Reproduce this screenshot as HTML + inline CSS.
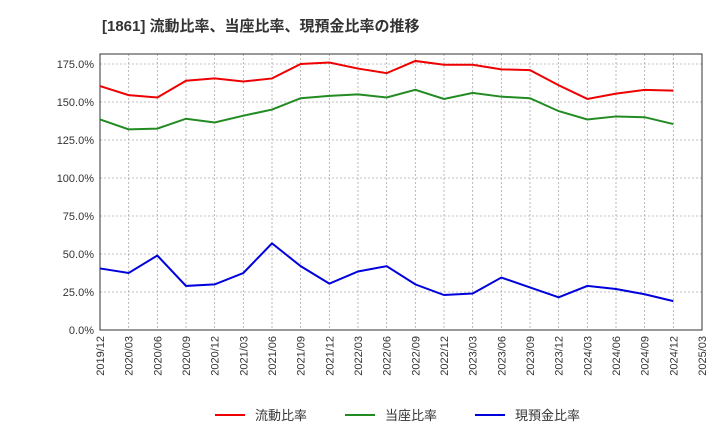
<!DOCTYPE html>
<html><head><meta charset="utf-8"><style>
body{margin:0;background:#fff;font-family:"Liberation Sans","Noto Sans CJK JP",sans-serif}
</style></head><body>
<svg width="720" height="440" xmlns="http://www.w3.org/2000/svg" font-family="Liberation Sans, Noto Sans CJK JP, sans-serif">
<text x="102" y="31" font-size="15" font-weight="bold" fill="#333">[1861]  流動比率、当座比率、現預金比率の推移</text>
<g id="grid"></g><g id="axes"></g><g id="series"></g><g id="legend"></g>
</svg>
<script>
const categories=["2019/12","2020/03","2020/06","2020/09","2020/12","2021/03","2021/06","2021/09","2021/12","2022/03","2022/06","2022/09","2022/12","2023/03","2023/06","2023/09","2023/12","2024/03","2024/06","2024/09","2024/12","2025/03"];
const currentRatio=[160.5,154.5,153,164,165.5,163.5,165.5,175,176,172,169,177,174.5,174.5,171.5,171,161,152,155.5,158,157.5];
const quickRatio=[138.5,132,132.5,139,136.5,141,145,152.5,154,155,153,158,152,156,153.5,152.5,144,138.5,140.5,140,135.5];
const cashRatio=[40.5,37.5,49,29,30,37.5,57,42,30.5,38.5,42,30,23,24,34.5,28,21.5,29,27,23.5,19];
const yTicks=[0,25,50,75,100,125,150,175];
const seriesNames=["流動比率","当座比率","現預金比率"];
const colors=["#e00","#228b22","#00d"];
const L=100,R=702,T=54,B=330;
const NS="http://www.w3.org/2000/svg";
const x=i=>L+(R-L)*i/(categories.length-1);
const y=v=>B-v*(B-64)/175;
function mk(tag,attrs,parent){const e=document.createElementNS(NS,tag);for(const k in attrs)e.setAttribute(k,attrs[k]);document.getElementById(parent).appendChild(e);return e;}
categories.forEach((c,i)=>{
 const g=mk("line",{x1:x(i),x2:x(i),y1:T,y2:B,stroke:"#aaa","stroke-dasharray":"2,2","stroke-width":0.8},"grid");
 
 
 const t=mk("text",{x:0,y:0,"font-size":11,fill:"#333","text-anchor":"end",transform:`translate(${x(i)+4},${B+6}) rotate(-90)`},"axes");
 t.textContent=c;
 
 
});
yTicks.forEach(v=>{
 const g=mk("line",{x1:L,x2:R,y1:y(v),y2:y(v),stroke:"#aaa","stroke-dasharray":"2,2","stroke-width":0.8},"grid");
 
 
 const t=mk("text",{x:L-6,y:y(v)+4,"font-size":11,fill:"#333","text-anchor":"end"},"axes");
 t.textContent=v.toFixed(1)+"%";
 
 
});
const f=mk("rect",{x:L,y:T,width:R-L,height:B-T,fill:"none",stroke:"#333","stroke-width":1},"axes");


[currentRatio,quickRatio,cashRatio].forEach((d,s)=>{
 const p=mk("polyline",{points:d.map((v,i)=>x(i)+","+y(v)).join(" "),fill:"none",stroke:colors[s],"stroke-width":2},"series");
 
 
 const lx=215+s*130;
 const ll=mk("line",{x1:lx,x2:lx+30,y1:415,y2:415,stroke:colors[s],"stroke-width":2},"legend");
 
 
 const lt=mk("text",{x:lx+40,y:420,"font-size":13,fill:"#333"},"legend");
 lt.textContent=seriesNames[s];
 
 
});
</script>
</body></html>
